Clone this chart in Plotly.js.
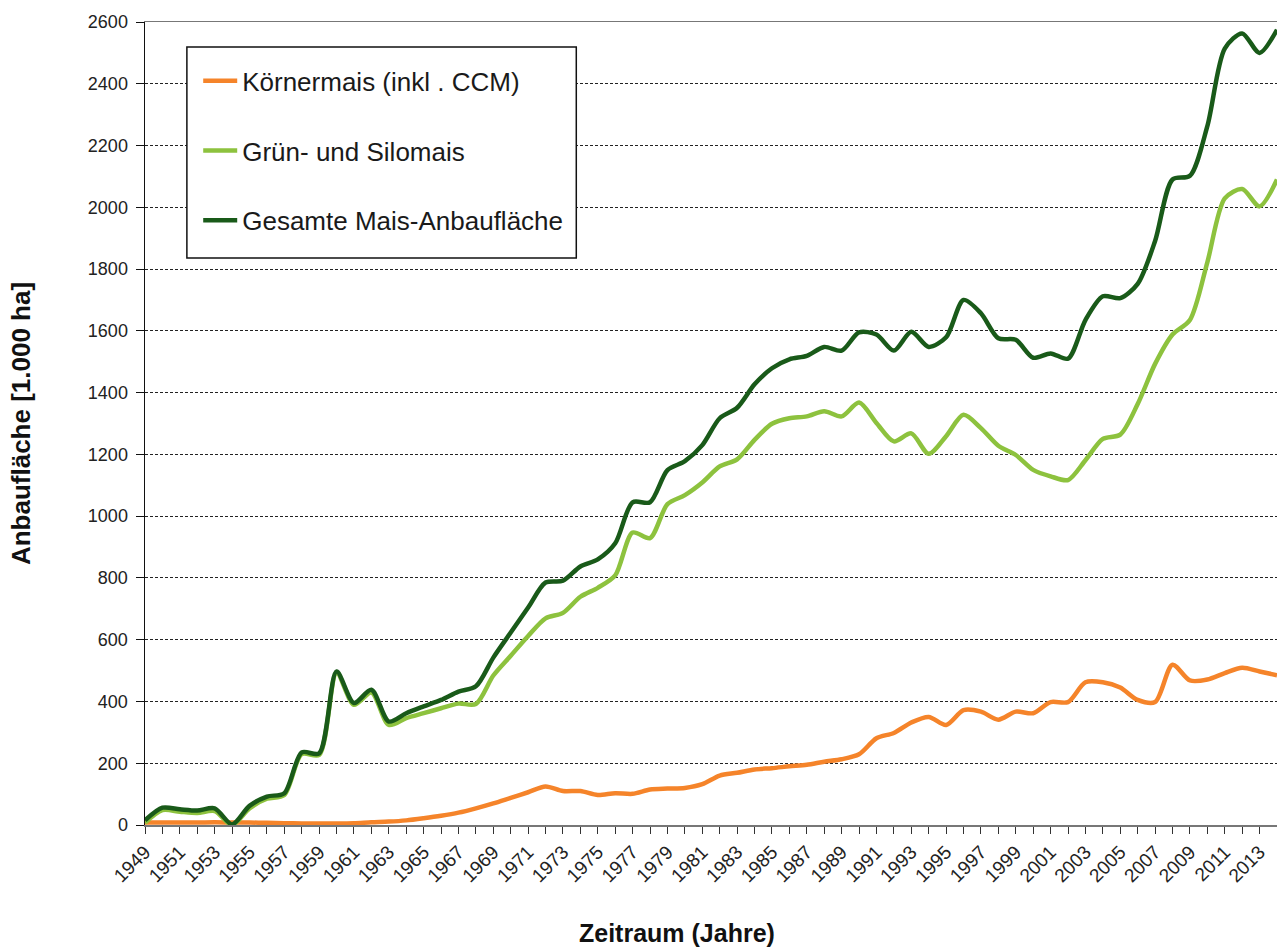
<!DOCTYPE html>
<html>
<head>
<meta charset="utf-8">
<script src="https://cdn.plot.ly/plotly-3.0.1.min.js"></script>
<style>
html,body{margin:0;padding:0;background:#fff;}
#chart{width:1277px;height:951px;}
</style>
</head>
<body>
<div id="chart"></div>
<script>
const years = [1949,1950,1951,1952,1953,1954,1955,1956,1957,1958,1959,1960,1961,1962,1963,1964,1965,1966,1967,1968,1969,1970,1971,1972,1973,1974,1975,1976,1977,1978,1979,1980,1981,1982,1983,1984,1985,1986,1987,1988,1989,1990,1991,1992,1993,1994,1995,1996,1997,1998,1999,2000,2001,2002,2003,2004,2005,2006,2007,2008,2009,2010,2011,2012,2013,2014];

const koernermais = [8,8,8,8,9,8,8,7,6,5,5,5,6,9,11,15,22,30,40,54,70,88,106,125,110,110,97,103,101,115,118,120,132,160,169,180,184,190,195,205,213,229,281,298,332,350,324,372,367,341,367,362,398,398,462,462,445,405,398,519,468,471,492,509,497,485];

const silomais = [7,48,43,39,45,0,54,85,97,230,227,492,389,429,324,346,362,378,393,392,484,548,612,669,687,739,768,808,947,929,1039,1068,1109,1161,1184,1247,1299,1317,1323,1340,1323,1368,1302,1242,1268,1202,1259,1328,1285,1228,1198,1150,1129,1117,1181,1250,1264,1363,1493,1588,1635,1822,2029,2059,2003,2090];

const gesamt = [15,56,51,47,54,2,62,92,103,235,232,497,395,438,335,362,384,405,432,449,542,623,704,785,791,837,860,912,1045,1045,1149,1178,1230,1317,1351,1427,1479,1508,1519,1548,1536,1595,1588,1536,1597,1548,1579,1700,1657,1576,1571,1513,1527,1510,1635,1712,1706,1752,1891,2090,2102,2263,2514,2563,2500,2575];

const seriesNames = ["Körnermais (inkl . CCM)", "Grün- und Silomais", "Gesamte Mais-Anbaufläche"];
const yTickVals = [0,200,400,600,800,1000,1200,1400,1600,1800,2000,2200,2400,2600];

const FONT = "Liberation Sans, Arial, sans-serif";

function mk(y, name, color, grp) {
  return {
    x: years, y: y, name: name, type: "scatter", mode: "lines",
    line: {color: color, width: 4.5, shape: "spline", smoothing: 0.8},
    legendgroup: grp, hoverinfo: "x+y+name"
  };
}

const data = [
  mk(koernermais, seriesNames[0], "#F5842A", "a"),
  mk(silomais, seriesNames[1], "#8DC23E", "b"),
  mk(gesamt, seriesNames[2], "#195A19", "c")
];

const layout = {
  width: 1277, height: 951,
  margin: {l: 145, r: 0, t: 22, b: 126},
  paper_bgcolor: "#fff", plot_bgcolor: "#fff",
  font: {family: FONT, color: "#222"},
  showlegend: true,
  legend: {
    x: 0.047, y: 0.956, xanchor: "left", yanchor: "top",
    bgcolor: "rgba(0,0,0,0)", borderwidth: 0,
    font: {family: FONT, size: 26, color: "#1a1a1a"},
    traceorder: "grouped", tracegroupgap: 33, itemwidth: 34
  },
  xaxis: {
    type: "linear", range: [1949, 2014],
    tick0: 1949, dtick: 2, tickangle: -45,
    ticks: "outside", ticklen: 7, tickcolor: "#333", tickwidth: 1,
    minor: {dtick: 1, ticks: "outside", ticklen: 7, tickcolor: "#333", showgrid: false},
    showgrid: false, zeroline: false,
    showline: true, linecolor: "#777", linewidth: 1.5, mirror: true,
    tickfont: {family: FONT, size: 19, color: "#222"}
  },
  yaxis: {
    range: [0, 2600], tickvals: yTickVals,
    ticks: "outside", ticklen: 8, tickcolor: "#111",
    ticklabelstandoff: 4,
    showgrid: true, gridcolor: "#222", gridwidth: 1, griddash: "3px,2px",
    zeroline: false, showline: true, linecolor: "#111", linewidth: 1.5,
    tickfont: {family: FONT, size: 18, color: "#222"},
    title: {text: "<b>Anbaufläche [1.000 ha]</b>", font: {family: FONT, size: 26, color: "#111"}, standoff: 50}
  },
  shapes: [{
    type: "rect", xref: "paper", yref: "paper",
    x0: 0.037, x1: 0.381, y0: 0.706, y1: 0.969,
    line: {color: "#111", width: 1.5}, fillcolor: "#fff", layer: "above"
  }],
  annotations: [{
    text: "<b>Zeitraum (Jahre)</b>", xref: "paper", yref: "paper",
    x: 0.47, y: -0.1345, xanchor: "center", yanchor: "middle", showarrow: false,
    font: {family: FONT, size: 25, color: "#111"}
  }]
};

Plotly.newPlot("chart", data, layout, {displayModeBar: false, staticPlot: true});
</script>
</body>
</html>
